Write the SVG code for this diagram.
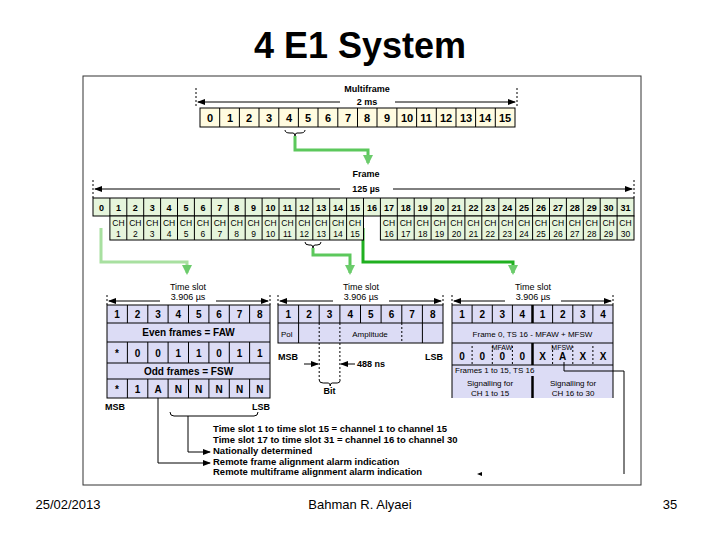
<svg xmlns="http://www.w3.org/2000/svg" width="720" height="540" viewBox="0 0 720 540">
<defs>
<style>
text{font-family:"Liberation Sans",Arial,sans-serif;fill:#000}
.b{font-weight:bold}
.c{text-anchor:middle}
.mf{fill:#fffbe0;stroke:#000;stroke-width:1}
.fr{fill:#e6f5dc;stroke:#000;stroke-width:1}
.ts{fill:#dcdcf5;stroke:#000;stroke-width:1}
.dot{stroke:#000;stroke-width:1;stroke-dasharray:2,2;fill:none}
.ln{stroke:#000;stroke-width:1;fill:none}
.g1{stroke:#a8e0a0;stroke-width:3;fill:none}
.g2{stroke:#5cc85c;stroke-width:3;fill:none}
.g3{stroke:#20b020;stroke-width:3;fill:none}
</style>
<marker id="ah" markerWidth="8" markerHeight="6" refX="7" refY="3" orient="auto" markerUnits="userSpaceOnUse"><path d="M0,0L8,3L0,6z" fill="#000"/></marker>
<marker id="ga" markerWidth="10" markerHeight="10" refX="5" refY="8" orient="0" markerUnits="userSpaceOnUse"><path d="M0,0L10,0L5,10z" fill="#6ccc6c"/></marker>
</defs>
<rect width="720" height="540" fill="#fff"/>
<text x="360" y="58" class="b c" font-size="36">4 E1 System</text>
<rect x="83" y="76" width="558" height="409" fill="none" stroke="#333" stroke-width="1"/>

<g id="multiframe" font-size="11">
<text x="367" y="92" class="b c" font-size="9">Multiframe</text>
<line x1="196" y1="88" x2="196" y2="106" class="dot"/><line x1="517" y1="88" x2="517" y2="106" class="dot"/>
<line x1="340" y1="102" x2="198" y2="102" class="ln" marker-end="url(#ah)"/><line x1="395" y1="102" x2="515" y2="102" class="ln" marker-end="url(#ah)"/>
<text x="367" y="105" class="b c" font-size="9">2 ms</text>
<rect x="200" y="108" width="315" height="19" class="mf"/>
<path d="M219.7 108v19M239.4 108v19M259 108v19M278.8 108v19M298.4 108v19M318 108v19M337.8 108v19M357.5 108v19M377 108v19M396.9 108v19M416.6 108v19M436.3 108v19M456 108v19M475.6 108v19M495.3 108v19" class="ln"/>
<g class="b c"><text x="210" y="122">0</text><text x="230" y="122">1</text><text x="249" y="122">2</text><text x="269" y="122">3</text><text x="289" y="122">4</text><text x="308" y="122">5</text><text x="328" y="122">6</text><text x="348" y="122">7</text><text x="367" y="122">8</text><text x="387" y="122">9</text><text x="407" y="122">10</text><text x="426" y="122">11</text><text x="446" y="122">12</text><text x="466" y="122">13</text><text x="485" y="122">14</text><text x="505" y="122">15</text></g>
</g>

<g id="frame" font-size="9">
<text x="366" y="177" class="b c">Frame</text>
<line x1="93" y1="180" x2="93" y2="198" class="dot"/><line x1="634" y1="180" x2="634" y2="198" class="dot"/>
<line x1="340" y1="189" x2="95" y2="189" class="ln" marker-end="url(#ah)"/><line x1="393" y1="189" x2="632" y2="189" class="ln" marker-end="url(#ah)"/>
<text x="366" y="192" class="b c">125 µs</text>
<rect x="93" y="198" width="541" height="18" class="fr"/>
</g>

<g id="ts-left" font-size="10">
<text x="188" y="290" class="c" font-size="9">Time slot</text>
<line x1="107" y1="295" x2="107" y2="305" class="dot"/><line x1="270" y1="295" x2="270" y2="305" class="dot"/>
<line x1="160" y1="301" x2="109" y2="301" class="ln" marker-end="url(#ah)"/><line x1="216" y1="301" x2="268" y2="301" class="ln" marker-end="url(#ah)"/>
<text x="188" y="300" class="c" font-size="9">3.906 µs</text>
<rect x="107" y="305" width="163" height="93" class="ts"/>
<path d="M107 323h163M107 342h163M107 363h163M107 379h163" class="ln"/>
<path d="M127.4 305v18M147.8 305v18M168.1 305v18M188.5 305v18M208.9 305v18M229.3 305v18M249.6 305v18M127.4 342v21M147.8 342v21M168.1 342v21M188.5 342v21M208.9 342v21M229.3 342v21M249.6 342v21M127.4 379v19M147.8 379v19M168.1 379v19M188.5 379v19M208.9 379v19M229.3 379v19M249.6 379v19" class="ln"/>
<g class="b c"><text x="117" y="318">1</text><text x="137.6" y="318">2</text><text x="158" y="318">3</text><text x="178.3" y="318">4</text><text x="198.7" y="318">5</text><text x="219" y="318">6</text><text x="239.5" y="318">7</text><text x="259.8" y="318">8</text>
<text x="188.5" y="336">Even frames = FAW</text>
<text x="117" y="357">*</text><text x="137.6" y="357">0</text><text x="158" y="357">0</text><text x="178.3" y="357">1</text><text x="198.7" y="357">1</text><text x="219" y="357">0</text><text x="239.5" y="357">1</text><text x="259.8" y="357">1</text>
<text x="188.5" y="375">Odd frames = FSW</text>
<text x="117" y="393">*</text><text x="137.6" y="393">1</text><text x="158" y="393">A</text><text x="178.3" y="393">N</text><text x="198.7" y="393">N</text><text x="219" y="393">N</text><text x="239.5" y="393">N</text><text x="259.8" y="393">N</text></g>
<text x="105" y="410" class="b" font-size="9">MSB</text><text x="270" y="410" class="b" font-size="9" text-anchor="end">LSB</text>
</g>

<g id="ts-mid" font-size="10">
<text x="361" y="290" class="c" font-size="9">Time slot</text>
<line x1="278" y1="295" x2="278" y2="305" class="dot"/><line x1="443" y1="295" x2="443" y2="305" class="dot"/>
<line x1="333" y1="301" x2="280" y2="301" class="ln" marker-end="url(#ah)"/><line x1="389" y1="301" x2="441" y2="301" class="ln" marker-end="url(#ah)"/>
<text x="361" y="300" class="c" font-size="9">3.906 µs</text>
<rect x="278" y="305" width="165" height="38" class="ts"/>
<path d="M278 323h165" class="ln"/>
<path d="M298.6 305v18M319.2 305v18M339.9 305v18M360.5 305v18M381.1 305v18M401.8 305v18M422.4 305v18M298.6 323v20M422.4 323v20" class="ln"/>
<path d="M319.2 323v57M339.9 323v57M401.8 323v20" class="dot"/>
<g class="b c"><text x="288.3" y="318">1</text><text x="309" y="318">2</text><text x="329.5" y="318">3</text><text x="350.2" y="318">4</text><text x="370.8" y="318">5</text><text x="391.5" y="318">6</text><text x="412" y="318">7</text><text x="432.7" y="318">8</text></g>
<text x="281" y="337" font-size="8">Pol</text><text x="370" y="337" class="c" font-size="8">Amplitude</text>
<text x="278" y="360" class="b" font-size="9">MSB</text><text x="443" y="360" class="b" font-size="9" text-anchor="end">LSB</text>
<line x1="304" y1="364" x2="318" y2="364" class="ln" marker-end="url(#ah)"/><line x1="355" y1="364" x2="341" y2="364" class="ln" marker-end="url(#ah)"/>
<text x="357" y="367" class="b" font-size="9">488 ns</text>
<path d="M319.2 380q0 3 4 3h5q2 0 2 3q0-3 2-3h5q3 0 3-3" class="ln"/>
<text x="329.5" y="394" class="b c" font-size="9">Bit</text>
</g>

<g id="ts-right" font-size="10">
<text x="533" y="290" class="c" font-size="9">Time slot</text>
<line x1="452" y1="295" x2="452" y2="305" class="dot"/><line x1="613" y1="295" x2="613" y2="305" class="dot"/>
<line x1="505" y1="301" x2="454" y2="301" class="ln" marker-end="url(#ah)"/><line x1="561" y1="301" x2="611" y2="301" class="ln" marker-end="url(#ah)"/>
<text x="533" y="300" class="c" font-size="9">3.906 µs</text>
<path d="M452 398V305h161v93" class="ts"/>
<path d="M452 323h161M452 343h161M452 365h161" class="ln"/>
<path d="M472.1 305v18M492.3 305v18M512.4 305v18M552.6 305v18M572.8 305v18M592.9 305v18" class="ln"/>
<path d="M532.5 305v18M532.5 343v22M532.5 376v22" stroke="#000" stroke-width="2.5"/>
<path d="M472.1 346v18M492.3 346v18M512.4 346v18M552.6 346v18M572.8 346v18M592.9 346v18" class="dot"/>
<g class="b c"><text x="462" y="318">1</text><text x="482.2" y="318">2</text><text x="502.3" y="318">3</text><text x="522.4" y="318">4</text><text x="542.5" y="318">1</text><text x="562.7" y="318">2</text><text x="582.8" y="318">3</text><text x="603" y="318">4</text>
<text x="462" y="360">0</text><text x="482.2" y="360">0</text><text x="502.3" y="360">0</text><text x="522.4" y="360">0</text><text x="542.5" y="360">X</text><text x="562.7" y="360">A</text><text x="582.8" y="360">X</text><text x="603" y="360">X</text></g>
<text x="532.5" y="337" class="c" font-size="8">Frame 0, TS 16 - MFAW + MFSW</text>
<text x="502" y="350" class="c" font-size="7">MFAW</text><text x="562" y="350" class="c" font-size="7">MFSW</text>
<text x="455" y="373" font-size="8">Frames 1 to 15, TS 16</text>
<text x="490" y="386" class="c" font-size="8">Signalling for</text><text x="490" y="396" class="c" font-size="8">CH 1 to 15</text>
<text x="573" y="386" class="c" font-size="8">Signalling for</text><text x="573" y="396" class="c" font-size="8">CH 16 to 30</text>
</g>

<g id="legend" font-size="9.5" class="b">
<text x="213" y="432">Time slot 1 to time slot 15 = channel 1 to channel 15</text>
<text x="213" y="443">Time slot 17 to time slot 31 = channel 16 to channel 30</text>
<text x="213" y="454">Nationally determined</text>
<text x="213" y="465">Remote frame alignment alarm indication</text>
<text x="213" y="475">Remote multiframe alignment alarm indication</text>
</g>

<g id="connectors">
<path d="M285 130q0 3 5 3h3q2 0 2 3q0-3 2-3h3q5 0 5-3" class="ln"/>
<path d="M305 242q0 3 4 3h2q2 0 2 3q0-3 2-3h2q4 0 4-3" class="ln"/>
<path d="M295 136V150h73v13" class="g2" marker-end="url(#ga)"/>
<path d="M101 228V262h86v11" class="g1" marker-end="url(#ga)"/>
<path d="M313 248V255h37v18" class="g2" marker-end="url(#ga)"/>
<path d="M363 228V262h150v11" class="g3" marker-end="url(#ga)"/>
<path d="M158 398V463h52" class="ln" marker-end="url(#ah)"/>
<path d="M170 412q0 4 4 4h80q4 0 4-4M188 416V452h22" class="ln" marker-end="url(#ah)"/>
<path d="M564 362V371h60v103" class="ln"/>
<path d="M482 472l-5 2 5 2z" fill="#000"/>
</g>

<g id="footer" font-size="13">
<text x="68" y="509" class="c">25/02/2013</text>
<text x="360" y="509" class="c">Bahman R. Alyaei</text>
<text x="670" y="509" class="c">35</text>
</g>

<g id="frame-cells" font-size="9" class="b c">
<path d="M109.9 198v18M126.8 198v18M143.7 198v18M160.6 198v18M177.5 198v18M194.4 198v18M211.3 198v18M228.3 198v18M245.2 198v18M262.1 198v18M279 198v18M295.9 198v18M312.8 198v18M329.7 198v18M346.6 198v18M363.5 198v18M380.4 198v18M397.3 198v18M414.2 198v18M431.1 198v18M448 198v18M464.9 198v18M481.8 198v18M498.8 198v18M515.7 198v18M532.6 198v18M549.5 198v18M566.4 198v18M583.3 198v18M600.2 198v18M617.1 198v18" class="ln"/>
<text x="101.5" y="211">0</text><text x="118.4" y="211">1</text><text x="135.3" y="211">2</text><text x="152.2" y="211">3</text><text x="169.1" y="211">4</text><text x="186" y="211">5</text><text x="202.9" y="211">6</text><text x="219.8" y="211">7</text><text x="236.7" y="211">8</text><text x="253.6" y="211">9</text><text x="270.5" y="211">10</text><text x="287.4" y="211">11</text><text x="304.3" y="211">12</text><text x="321.2" y="211">13</text><text x="338.1" y="211">14</text><text x="355" y="211">15</text><text x="372" y="211">16</text><text x="388.9" y="211">17</text><text x="405.8" y="211">18</text><text x="422.7" y="211">19</text><text x="439.6" y="211">20</text><text x="456.5" y="211">21</text><text x="473.4" y="211">22</text><text x="490.3" y="211">23</text><text x="507.2" y="211">24</text><text x="524.1" y="211">25</text><text x="541" y="211">26</text><text x="557.9" y="211">27</text><text x="574.8" y="211">28</text><text x="591.7" y="211">29</text><text x="608.6" y="211">30</text><text x="625.5" y="211">31</text>
</g>
<g id="channels" font-size="9" class="c">
<rect x="109.9" y="216" width="253.6" height="24" class="fr"/>
<rect x="380.4" y="216" width="253.6" height="24" class="fr"/>
<path d="M126.8 216v24M143.7 216v24M160.6 216v24M177.5 216v24M194.4 216v24M211.3 216v24M228.3 216v24M245.2 216v24M262.1 216v24M279 216v24M295.9 216v24M312.8 216v24M329.7 216v24M346.6 216v24M397.3 216v24M414.2 216v24M431.1 216v24M448 216v24M464.9 216v24M481.8 216v24M498.8 216v24M515.7 216v24M532.6 216v24M549.5 216v24M566.4 216v24M583.3 216v24M600.2 216v24M617.1 216v24" class="ln"/>
<g font-size="8.5">
<text x="118.4" y="226">CH</text><text x="135.3" y="226">CH</text><text x="152.2" y="226">CH</text><text x="169.1" y="226">CH</text><text x="186" y="226">CH</text><text x="202.9" y="226">CH</text><text x="219.8" y="226">CH</text><text x="236.7" y="226">CH</text><text x="253.6" y="226">CH</text><text x="270.5" y="226">CH</text><text x="287.4" y="226">CH</text><text x="304.3" y="226">CH</text><text x="321.2" y="226">CH</text><text x="338.1" y="226">CH</text><text x="355" y="226">CH</text>
<text x="388.9" y="226">CH</text><text x="405.8" y="226">CH</text><text x="422.7" y="226">CH</text><text x="439.6" y="226">CH</text><text x="456.5" y="226">CH</text><text x="473.4" y="226">CH</text><text x="490.3" y="226">CH</text><text x="507.2" y="226">CH</text><text x="524.1" y="226">CH</text><text x="541" y="226">CH</text><text x="557.9" y="226">CH</text><text x="574.8" y="226">CH</text><text x="591.7" y="226">CH</text><text x="608.6" y="226">CH</text><text x="625.5" y="226">CH</text>
<text x="118.4" y="237">1</text><text x="135.3" y="237">2</text><text x="152.2" y="237">3</text><text x="169.1" y="237">4</text><text x="186" y="237">5</text><text x="202.9" y="237">6</text><text x="219.8" y="237">7</text><text x="236.7" y="237">8</text><text x="253.6" y="237">9</text><text x="270.5" y="237">10</text><text x="287.4" y="237">11</text><text x="304.3" y="237">12</text><text x="321.2" y="237">13</text><text x="338.1" y="237">14</text><text x="355" y="237">15</text>
<text x="388.9" y="237">16</text><text x="405.8" y="237">17</text><text x="422.7" y="237">18</text><text x="439.6" y="237">19</text><text x="456.5" y="237">20</text><text x="473.4" y="237">21</text><text x="490.3" y="237">22</text><text x="507.2" y="237">23</text><text x="524.1" y="237">24</text><text x="541" y="237">25</text><text x="557.9" y="237">26</text><text x="574.8" y="237">27</text><text x="591.7" y="237">28</text><text x="608.6" y="237">29</text><text x="625.5" y="237">30</text>
</g>
</g>
</svg>
